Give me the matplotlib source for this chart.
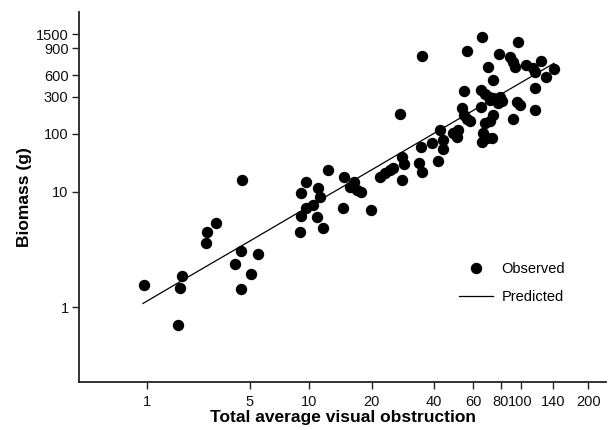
import numpy as np
import matplotlib
matplotlib.use('Agg')
import matplotlib.pyplot as plt
from matplotlib.lines import Line2D

plt.rcParams['font.family'] = ['Liberation Sans', 'DejaVu Sans']

# ---------------- data ----------------
obstruction = [0.96, 1.63, 1.68, 1.73, 2.52, 2.56, 2.94, 3.96, 4.35, 4.35,
               5.06, 5.49, 4.41, 9.0, 9.1, 9.1, 9.65, 9.65, 10.45, 10.9,
               11.05, 11.3, 11.7, 12.3, 14.7, 14.6, 15.7, 16.4, 17.0, 17.8,
               19.9, 21.9, 23.2, 24.5, 25.3, 28.0, 28.0, 28.6, 27.4, 33.8,
               34.9, 34.5, 34.9, 39.0, 41.6, 42.4, 43.8, 43.8, 48.6, 51.2,
               50.6, 53.3, 54.5, 56.2, 58.0, 54.5, 56.2, 65.7, 65.1, 67.8,
               70.7, 73.8, 79.4, 81.2, 71.5, 77.8, 65.1, 70.0, 73.8, 78.6,
               88.8, 91.8, 93.8, 97.0, 105.6, 113.5, 115.9, 123.3, 141.0, 129.9,
               115.9, 96.0, 99.2, 115.9, 73.8, 71.5, 67.8, 91.8, 66.4, 69.3,
               73.0, 65.7]
biomass = [1.56, 0.70, 1.47, 1.87, 3.60, 4.48, 5.36, 2.37, 3.07, 1.44,
           1.94, 2.89, 15.9, 4.48, 6.16, 9.74, 14.7, 7.23, 7.67, 6.04,
           11.6, 9.0, 4.85, 23.8, 18.0, 7.23, 12.1, 14.7, 10.7, 9.94,
           6.94, 18.0, 21.1, 23.8, 25.7, 15.9, 39.9, 30.2, 180, 31.4,
           21.9, 59.5, 801, 69.8, 34.0, 112.5, 78.7, 55.0, 103, 112.5,
           88.7, 215, 175, 156, 147, 360, 864, 1347, 372, 327,
           297, 289, 297, 264, 272, 249, 221, 678, 511, 825,
           789, 731, 678, 1127, 699, 667, 628, 742, 657, 563,
           396, 257, 235, 203, 175, 147, 138, 156, 103, 85.2,
           85.2, 72.7]

pred_x = [0.944, 2.29, 5.0, 9.0, 17.6, 34.1, 64.4, 99.2, 141.0]
pred_y = [1.08, 2.10, 3.75, 6.73, 18.3, 73.8, 225, 462, 717]

x_ticks = [1, 5, 10, 20, 40, 60, 80, 100, 140, 200]
y_ticks = [1, 10, 100, 300, 600, 900, 1500]

# ---------------- axis scales (tick spacing as drawn in the original) ----------------
x_knot_val = [0.1, 1, 5, 10, 20, 40, 60, 80, 100, 140, 200, 1000]
x_knot_pos = [-0.152, 0.1285, 0.3245, 0.4364, 0.5554, 0.6742, 0.7482,
              0.8002, 0.8381, 0.9000, 0.9664, 1.2657]
y_knot_val = [0.1, 1, 10, 100, 300, 600, 900, 1500, 10000]
y_knot_pos = [-0.1105, 0.2019, 0.5143, 0.6703, 0.7711, 0.8297, 0.9019,
              0.9405, 1.0841]


def make_scale(vals, pos):
    lv = np.log10(np.asarray(vals, dtype=float))
    p = np.asarray(pos, dtype=float)

    def fwd(v):
        v = np.asarray(v, dtype=float)
        lvv = np.log10(np.clip(v, 1e-12, None))
        return np.interp(lvv, lv, p)

    def inv(q):
        q = np.asarray(q, dtype=float)
        return 10 ** np.interp(q, p, lv)

    return fwd, inv


xf, xi = make_scale(x_knot_val, x_knot_pos)
yf, yi = make_scale(y_knot_val, y_knot_pos)

# ---------------- figure ----------------
fig = plt.figure(figsize=(6.09, 4.30), dpi=100)
ax = fig.add_axes([79 / 609, (430 - 382) / 430, 527 / 609, 370 / 430])

ax.set_xscale('function', functions=(xf, xi))
ax.set_yscale('function', functions=(yf, yi))
ax.set_xlim(float(xi(0.0)), float(xi(1.0)))
ax.set_ylim(float(yi(0.0)), float(yi(1.0)))

ax.plot(obstruction, biomass, linestyle='none', marker='o', markersize=8.2,
        color='black', markeredgewidth=0, zorder=3)
ax.plot(pred_x, pred_y, color='black', linewidth=0.9, zorder=2)

ax.set_xticks(x_ticks)
ax.set_xticklabels([str(t) for t in x_ticks])
ax.set_yticks(y_ticks)
ax.set_yticklabels([str(t) for t in y_ticks])
ax.minorticks_off()

for s in ['top', 'right']:
    ax.spines[s].set_visible(False)
for s in ['left', 'bottom']:
    ax.spines[s].set_linewidth(1.3)
    ax.spines[s].set_color('#222222')

ax.tick_params(axis='both', direction='out', length=5, width=1, color='#222222',
               labelsize=10.5, labelcolor='#111111')
ax.tick_params(axis='x', pad=4)
ax.tick_params(axis='y', pad=2.5)

ax.set_xlabel('Total average visual obstruction', fontsize=12.5,
              fontweight='bold', labelpad=1)
ax.set_ylabel('Biomass (g)', fontsize=12.5, fontweight='bold', labelpad=3)

handles = [Line2D([], [], linestyle='none', marker='o', markersize=8.2,
                  color='black', markeredgewidth=0),
           Line2D([], [], color='black', linewidth=0.9)]
ax.legend(handles, ['Observed', 'Predicted'], loc='upper left',
          bbox_to_anchor=(0.71, 0.34), frameon=False, fontsize=10.5,
          handlelength=2.3, handletextpad=0.6, labelspacing=0.95,
          borderaxespad=0, numpoints=1)

fig.savefig('out.png', dpi=100)
